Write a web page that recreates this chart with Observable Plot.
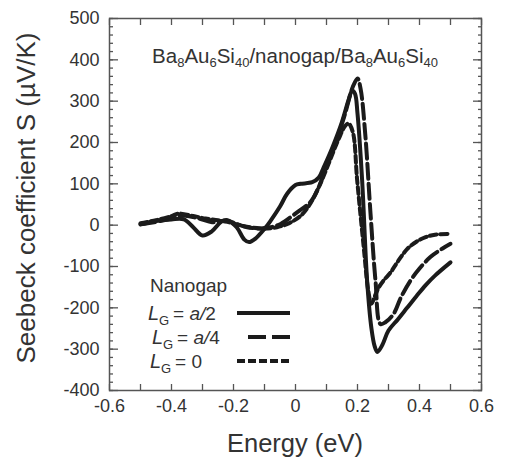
<!DOCTYPE html>
<html>
<head>
<meta charset="utf-8">
<script src="https://cdn.jsdelivr.net/npm/d3@7"></script>
<script src="https://cdn.jsdelivr.net/npm/@observablehq/plot@0.6"></script>
<style>
  html, body { margin: 0; padding: 0; background: #fff; }
  #chart { width: 505px; height: 462px; }
  svg { font-family: "Liberation Sans", Arial, sans-serif; }
</style>
</head>
<body>
<div id="chart"></div>
<script>
// ---- data ----
const energyA2 = [-0.5,-0.45,-0.4,-0.36,-0.33,-0.3,-0.27,-0.24,-0.22,-0.19,-0.165,-0.15,-0.13,-0.1,-0.08,-0.05,-0.027,0,0.016,0.054,0.075,0.091,0.12,0.15,0.17,0.183,0.192,0.2,0.215,0.231,0.245,0.255,0.264,0.28,0.3,0.33,0.36,0.39,0.42,0.45,0.5];
const seebeckA2 = [2,10,14,14,-5,-25,-15,8,12,-5,-35,-41,-33,-9,11,45,76,97,100,104,115,140,190,250,300,326,318,270,108,-134,-250,-292,-307,-290,-255,-228,-200,-172,-145,-122,-90];

const energyA4 = [-0.5,-0.45,-0.4,-0.37,-0.355,-0.306,-0.269,-0.22,-0.19,-0.156,-0.113,-0.08,-0.048,0.005,0.048,0.075,0.102,0.13,0.16,0.185,0.2,0.21,0.225,0.242,0.258,0.274,0.29,0.317,0.34,0.371,0.4,0.435,0.473,0.5];
const seebeckA4 = [2,8,16,22,23,15,7,11,3,-5,-8,-5,3,31,56,92,148,200,270,335,355,330,220,28,-134,-239,-235,-214,-175,-134,-105,-77,-57,-45];

const energy0 = [-0.5,-0.45,-0.4,-0.377,-0.33,-0.29,-0.25,-0.22,-0.18,-0.14,-0.1,-0.06,-0.02,0.02,0.05,0.08,0.11,0.14,0.16,0.171,0.185,0.199,0.22,0.235,0.245,0.257,0.269,0.285,0.306,0.33,0.36,0.39,0.42,0.45,0.5];
const seebeck0 = [5,12,22,28,22,16,12,8,0,-6,-8,-5,5,25,55,100,155,210,240,246,225,108,-53,-160,-190,-170,-150,-133,-115,-88,-58,-40,-29,-23,-21];

const xTickLabels = [-0.6,-0.4,-0.2,0,0.2,0.4,0.6];
const yTickLabels = [-400,-300,-200,-100,0,100,200,300,400,500];

const legendTitle = "Nanogap";
const seriesNames = ["a/2","a/4","0"];
const titleParts = [["Ba",false],["8",true],["Au",false],["6",true],["Si",false],["40",true],["/nanogap/Ba",false],["8",true],["Au",false],["6",true],["Si",false],["40",true]];

// ---- build ----
const toRows = (xs, ys) => xs.map((x, i) => ({x, y: ys[i]}));
const solid = toRows(energyA2, seebeckA2);
const dashed = toRows(energyA4, seebeckA4);
const dotted = toRows(energy0, seebeck0);

const xMinor = d3.range(-6, 7).map(d => d / 10);
const yMinor = d3.range(-400, 501, 20);

const fmtX = d => d === 0 ? "0" : d.toFixed(1);
const fmtY = d => String(d);

const frameColor = "#555";
const lineColor = "#1b1b1b";
const textColor = "#333";

const plot = Plot.plot({
  width: 505,
  height: 462,
  marginLeft: 109,
  marginRight: 24,
  marginTop: 18,
  marginBottom: 72,
  style: {fontFamily: "Liberation Sans, Arial, sans-serif", background: "#fff"},
  x: {domain: [-0.6, 0.6]},
  y: {domain: [-400, 500]},
  marks: [
    Plot.line(solid, {x: "x", y: "y", curve: "catmull-rom", stroke: lineColor, strokeWidth: 4}),
    Plot.line(dashed, {x: "x", y: "y", curve: "catmull-rom", stroke: lineColor, strokeWidth: 4, strokeDasharray: "15,5"}),
    Plot.line(dotted, {x: "x", y: "y", curve: "catmull-rom", stroke: lineColor, strokeWidth: 4, strokeDasharray: "7,3.5"}),
    // inward ticks
    Plot.axisX(xMinor, {anchor: "bottom", tickSize: -6, fill: "none", stroke: frameColor, strokeWidth: 1.3, label: null}),
    Plot.axisX(xMinor, {anchor: "top", tickSize: -6, fill: "none", stroke: frameColor, strokeWidth: 1.3, label: null}),
    Plot.axisY(yMinor, {anchor: "left", tickSize: -4, fill: "none", stroke: frameColor, strokeWidth: 1.3, label: null}),
    Plot.axisY(yMinor, {anchor: "right", tickSize: -4, fill: "none", stroke: frameColor, strokeWidth: 1.3, label: null}),
    Plot.axisY(yTickLabels, {anchor: "left", tickSize: -9, fill: "none", stroke: frameColor, strokeWidth: 1.3, label: null}),
    Plot.axisY(yTickLabels, {anchor: "right", tickSize: -9, fill: "none", stroke: frameColor, strokeWidth: 1.3, label: null}),
    // tick labels
    Plot.axisX(xTickLabels, {anchor: "bottom", tickSize: 0, tickPadding: 9, tickFormat: fmtX, fontSize: 18, fill: textColor, label: null}),
    Plot.axisY(yTickLabels, {anchor: "left", tickSize: 0, tickPadding: 10, tickFormat: fmtY, fontSize: 18, fill: textColor, label: null}),
    Plot.frame({stroke: frameColor, strokeWidth: 1.5})
  ]
});

document.getElementById("chart").appendChild(plot);

// ---- text decorations (titles, legend) ----
const svg = d3.select(plot);
const xs = plot.scale("x"), ys = plot.scale("y");
const cx = xs.apply(0);

svg.append("text")
  .attr("x", cx).attr("y", 452)
  .attr("text-anchor", "middle")
  .attr("font-size", 25.5).attr("fill", textColor)
  .text("Energy (eV)");

svg.append("text")
  .attr("transform", `translate(35,${(ys.apply(500) + ys.apply(-400)) / 2 - 6}) rotate(-90)`)
  .attr("text-anchor", "middle")
  .attr("font-size", 26).attr("fill", textColor)
  .text("Seebeck coefficient S (\u00b5V/K)");

// inner title with subscripts
const title = svg.append("text")
  .attr("x", cx).attr("y", 62.5)
  .attr("text-anchor", "middle")
  .attr("font-size", 20.5).attr("fill", textColor);
let shifted = false;
titleParts.forEach(([t, sub]) => {
  const ts = title.append("tspan").text(t);
  if (sub && !shifted) { ts.attr("font-size", 13).attr("dy", 4); shifted = true; }
  else if (!sub && shifted) { ts.attr("dy", -4); shifted = false; }
  else if (sub) ts.attr("font-size", 13);
});

// legend
svg.append("text").attr("x", 150).attr("y", 292)
  .attr("text-anchor", "start")
  .attr("font-size", 19).attr("fill", textColor).text(legendTitle);

const rowsY = [320, 344, 368];
const rowsX = [148, 152, 150];
const dashes = [null, "18,6", "8,3"];
const lineSpans = [[237, 290], [248, 290], [237, 290]];
seriesNames.forEach((name, i) => {
  const x0 = rowsX[i], y0 = rowsY[i];
  const g = svg.append("g").attr("fill", textColor).attr("text-anchor", "start");
  g.append("text").attr("x", x0).attr("y", y0)
    .attr("font-size", 20).attr("font-style", "italic").text("L");
  g.append("text").attr("x", x0 + 11).attr("y", y0 + 5)
    .attr("font-size", 13).text("G");
  const t = g.append("text").attr("x", x0 + 25).attr("y", y0).attr("font-size", 19);
  t.append("tspan").text("= ");
  if (name === "0") {
    t.append("tspan").text("0");
  } else {
    const [a, b] = name.split("/");
    t.append("tspan").attr("font-style", "italic").text(a + "/");
    t.append("tspan").text(b);
  }
  const ln = svg.append("line")
    .attr("x1", lineSpans[i][0]).attr("x2", lineSpans[i][1])
    .attr("y1", y0 - 7).attr("y2", y0 - 7)
    .attr("stroke", lineColor).attr("stroke-width", 4);
  if (dashes[i]) ln.attr("stroke-dasharray", dashes[i]);
});
</script>
</body>
</html>
